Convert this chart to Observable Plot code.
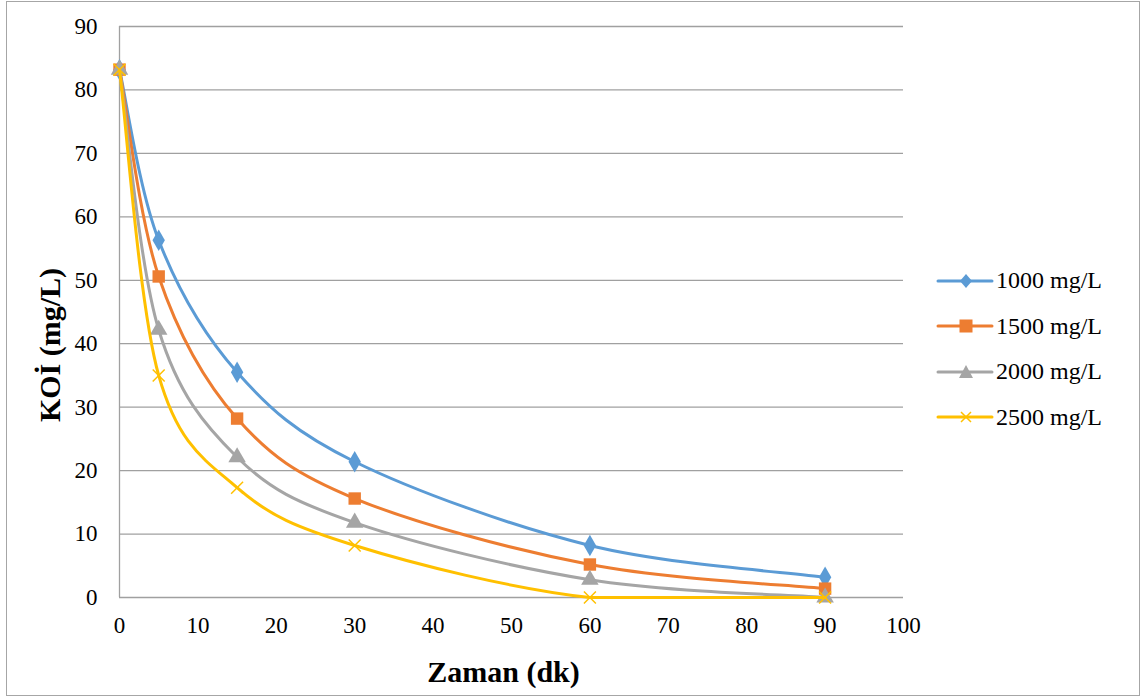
<!DOCTYPE html>
<html>
<head>
<meta charset="utf-8">
<script src="https://cdn.jsdelivr.net/npm/d3@7"></script>
<script src="https://cdn.jsdelivr.net/npm/@observablehq/plot@0.6"></script>
<style>
  html, body { margin: 0; padding: 0; background: #fff; }
  #wrap { position: relative; width: 1147px; height: 699px; overflow: hidden; font-family: "Liberation Serif", "Tinos", "Times New Roman", "Noto Serif", "DejaVu Serif", serif; }
  #border { position: absolute; left: 6px; top: 1px; width: 1134px; height: 695px; border: 1px solid #a6a6a6; box-sizing: border-box; pointer-events: none; }
  #chart { position: absolute; left: 0; top: 0; }
  #legend { position: absolute; left: 936px; top: 258px; }
  .item { display: flex; align-items: center; height: 45.5px; font-size: 24px; color: #000; }
  .item span { margin-left: 2px; }
</style>
</head>
<body>
<div id="wrap">
  <div id="chart"></div>
  <div id="legend"></div>
  <div id="border"></div>
</div>
<script>
const times = [0, 5, 15, 30, 60, 90];
const seriesNames = ["1000 mg/L", "1500 mg/L", "2000 mg/L", "2500 mg/L"];
const koi1000 = [83.2, 56.3, 35.5, 21.4, 8.2, 3.2];
const koi1500 = [83.2, 50.6, 28.2, 15.6, 5.2, 1.4];
const koi2000 = [83.2, 42.2, 22.1, 11.8, 2.8, 0.0];
const koi2500 = [83.2, 35.0, 17.3, 8.2, 0.0, 0.0];
const xTicks = [0, 10, 20, 30, 40, 50, 60, 70, 80, 90, 100];
const yTicks = [0, 10, 20, 30, 40, 50, 60, 70, 80, 90];
const colors = ["#5B9BD5", "#ED7D31", "#A5A5A5", "#FFC000"];
const symbols = ["diamond", "square", "triangle", "times"];

const values = [koi1000, koi1500, koi2000, koi2500];
const data = [];
seriesNames.forEach((s, i) => times.forEach((t, j) => data.push({series: s, t, koi: values[i][j]})));

// Excel-like smoothed line: uniform Catmull-Rom Bezier, control y clamped to the segment's range
function excelSmooth(context) {
  return {
    areaStart() {}, areaEnd() {},
    lineStart() { this._p = []; },
    point(x, y) { this._p.push([+x, +y]); },
    lineEnd() {
      const P = this._p, n = P.length;
      if (!n) return;
      context.moveTo(P[0][0], P[0][1]);
      for (let i = 0; i < n - 1; i++) {
        const p0 = P[Math.max(0, i - 1)], p1 = P[i], p2 = P[i + 1], p3 = P[Math.min(n - 1, i + 2)];
        const lo = Math.min(p1[1], p2[1]), hi = Math.max(p1[1], p2[1]);
        const c1x = p1[0] + (p2[0] - p0[0]) / 6;
        const c1y = Math.min(hi, Math.max(lo, p1[1] + (p2[1] - p0[1]) / 6));
        const c2x = p2[0] - (p3[0] - p1[0]) / 6;
        const c2y = Math.min(hi, Math.max(lo, p2[1] - (p3[1] - p1[1]) / 6));
        context.bezierCurveTo(c1x, c1y, c2x, c2y, p2[0], p2[1]);
      }
    }
  };
}

const FONT = "'Liberation Serif', Tinos, 'Times New Roman', 'Noto Serif', 'DejaVu Serif', serif";
const marks = [
  Plot.gridY(yTicks, {stroke: "#a0a0a0", strokeOpacity: 1, strokeWidth: 1.3}),
  Plot.ruleX([0], {stroke: "#a0a0a0", strokeWidth: 1.3}),
  Plot.axisY(yTicks, {tickSize: 0, tickPadding: 22, fontSize: 23, label: null}),
  Plot.axisX(xTicks, {tickSize: 0, tickPadding: 19, fontSize: 23, label: null}),
  Plot.text(["KOİ (mg/L)"], {frameAnchor: "left", rotate: -90, textAnchor: "middle", lineAnchor: "middle", dx: -69, dy: 33, fontSize: 30, fontWeight: "bold"}),
  Plot.text(["Zaman (dk)"], {frameAnchor: "bottom", textAnchor: "middle", lineAnchor: "middle", dy: 75, dx: -8, fontSize: 30, fontWeight: "bold"})
];
seriesNames.forEach((s, i) => {
  const d = data.filter(r => r.series === s);
  marks.push(Plot.line(d, {x: "t", y: "koi", stroke: colors[i], strokeWidth: 3, curve: excelSmooth}));
  if (symbols[i] === "times") {
    marks.push(Plot.dot(d, {x: "t", y: "koi", symbol: "times", stroke: colors[i], strokeWidth: 1.5, r: 5.5}));
  } else {
    const r = symbols[i] === "square" ? 7 : 6.5;
    marks.push(Plot.dot(d, {x: "t", y: "koi", symbol: symbols[i], fill: colors[i], stroke: "none", r}));
  }
});

const chart = Plot.plot({
  width: 1147,
  height: 699,
  marginLeft: 119,
  marginRight: 244,
  marginTop: 26,
  marginBottom: 102,
  style: {fontFamily: FONT, color: "#000", background: "#fff"},
  x: {domain: [0, 100]},
  y: {domain: [0, 90]},
  marks
});
document.getElementById("chart").appendChild(chart);

const legend = document.getElementById("legend");
seriesNames.forEach((s, i) => {
  const item = document.createElement("div");
  item.className = "item";
  let sym = "";
  if (symbols[i] === "diamond") sym = `<path d="M30,4 L36,11 L30,18 L24,11 Z" fill="${colors[i]}"/>`;
  if (symbols[i] === "square") sym = `<rect x="23.5" y="4.5" width="13" height="13" fill="${colors[i]}"/>`;
  if (symbols[i] === "triangle") sym = `<path d="M30,4 L37,17 L23,17 Z" fill="${colors[i]}"/>`;
  if (symbols[i] === "times") sym = `<path d="M25,6 L35,16 M35,6 L25,16" stroke="${colors[i]}" stroke-width="1.5"/>`;
  item.innerHTML = `<svg width="58" height="22"><line x1="2" x2="56" y1="11" y2="11" stroke="${colors[i]}" stroke-width="3" stroke-linecap="round"/>${sym}</svg><span>${s}</span>`;
  legend.appendChild(item);
});
</script>
</body>
</html>
